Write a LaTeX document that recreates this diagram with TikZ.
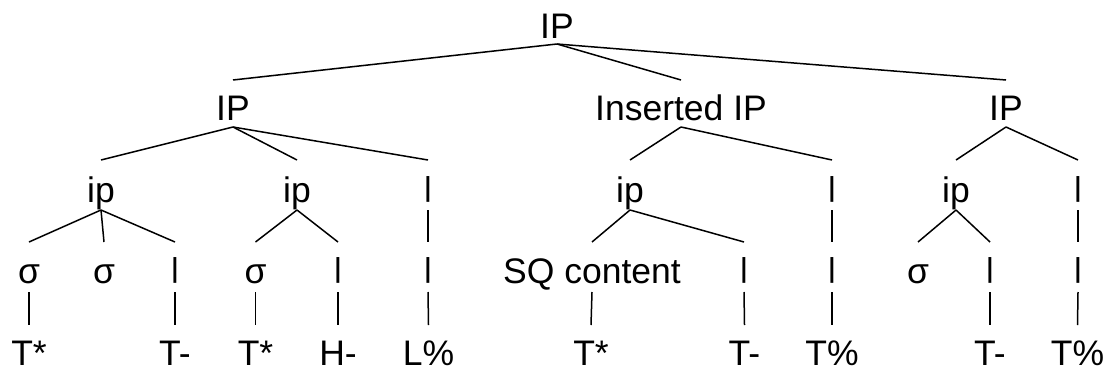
\documentclass[tikz,border=0pt]{standalone}
\usepackage{fontspec}
\usepackage{graphicx}
\setmainfont{Liberation Sans}
\newcommand\vbarglyph{\scalebox{1}[0.776]{\raisebox{0.21em}{|}}}
\begin{document}
\begin{tikzpicture}[x=1pt,y=1pt,
  lab/.style={font=\fontsize{35.5}{40}\selectfont, inner sep=0pt, anchor=base},
  edge/.style={line width=1.5pt, black}]
\useasboundingbox (0,0) rectangle (1110,-370);
% row 0
\node[lab] (IP0) at (557,-38) {IP};
% row 1
\node[lab] (IPa) at (233,-120) {IP};
\node[lab] (IPb) at (681,-120) {Inserted IP};
\node[lab] (IPc) at (1006,-120) {IP};
% row 2
\node[lab] (ipa) at (101,-202) {ip};
\node[lab] (ipb) at (297,-202) {ip};
\node[lab] (ba) at (428,-202) {\vbarglyph};
\node[lab] (ipc) at (630,-202) {ip};
\node[lab] (bb) at (832,-202) {\vbarglyph};
\node[lab] (ipd) at (956,-202) {ip};
\node[lab] (bc) at (1078,-202) {\vbarglyph};
% row 3
\node[lab] (s1) at (29,-283) {σ};
\node[lab] (s2) at (104,-283) {σ};
\node[lab] (b1) at (175,-283) {\vbarglyph};
\node[lab] (s3) at (255.5,-283) {σ};
\node[lab] (b2) at (338,-283) {\vbarglyph};
\node[lab] (b3) at (428,-283) {\vbarglyph};
\node[lab] (sq) at (592,-283) {SQ content};
\node[lab] (b4) at (744,-283) {\vbarglyph};
\node[lab] (b5) at (832,-283) {\vbarglyph};
\node[lab] (s4) at (918,-283) {σ};
\node[lab] (b6) at (990,-283) {\vbarglyph};
\node[lab] (b7) at (1078,-283) {\vbarglyph};
% row 4
\node[lab] (t1) at (29,-365) {T*};
\node[lab] (t2) at (175,-365) {T-};
\node[lab] (t3) at (255.5,-365) {T*};
\node[lab] (t4) at (338,-365) {H-};
\node[lab] (t5) at (428.5,-365) {L\%};
\node[lab] (t6) at (591,-365) {T*};
\node[lab] (t7) at (744.5,-365) {T-};
\node[lab] (t8) at (832,-365) {T\%};
\node[lab] (t9) at (990,-365) {T-};
\node[lab] (t10) at (1077.5,-365) {T\%};
% connectors
\foreach \p/\c in {IP0/IPa, IP0/IPb, IP0/IPc}
  \draw[edge] ([yshift=-6pt]\p.base) -- ([yshift=40pt]\c.base);
\foreach \p/\c in {IPa/ipa, IPa/ipb, IPa/ba, IPb/ipc, IPb/bb, IPc/ipd, IPc/bc}
  \draw[edge] ([yshift=-7pt]\p.base) -- ([yshift=42pt]\c.base);
\foreach \p/\c in {ipa/s1, ipa/s2, ipa/b1, ipb/s3, ipb/b2, ba/b3, ipc/sq, ipc/b4, bb/b5, ipd/s4, ipd/b6, bc/b7}
  \draw[edge] ([yshift=-8pt]\p.base) -- ([yshift=41pt]\c.base);
\foreach \p/\c in {s1/t1, b1/t2, s3/t3, b2/t4, b3/t5, sq/t6, b4/t7, b5/t8, b6/t9, b7/t10}
  \draw[edge] ([yshift=-9pt]\p.base) -- ([yshift=40pt]\c.base);
\end{tikzpicture}
\end{document}
